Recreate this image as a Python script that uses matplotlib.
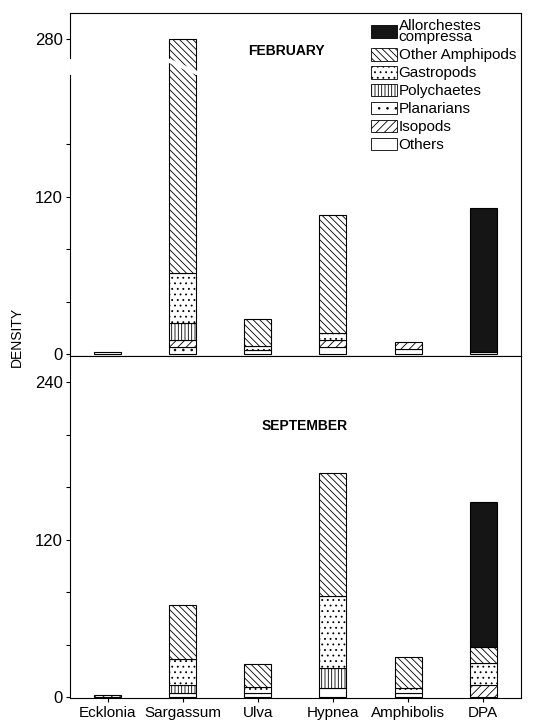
import numpy as np
import matplotlib
matplotlib.use('Agg')
import matplotlib.pyplot as plt
from matplotlib.patches import Patch

plt.rcParams['font.family'] = ['Liberation Sans', 'DejaVu Sans']
plt.rcParams['hatch.linewidth'] = 0.6

########
# DATA #
########

algae = ['Ecklonia', 'Sargassum', 'Ulva', 'Hypnea', 'Amphibolis', 'DPA']

# Stacking order, bottom to top
groups = ['Others', 'Planarians', 'Isopods', 'Polychaetes', 'Gastropods',
          'Other Amphipods', 'Allorchestes\ncompressa']

# Legend order, top to bottom (indices into groups)
legend_order = [6, 5, 4, 3, 1, 2, 0]

# February densities per group (one list per group, one value per alga)
feb_others = [0, 0, 3, 5, 4, 1.5]
feb_planarians = [0, 5, 0, 0, 0, 0]
feb_isopods = [0, 6, 0, 5.5, 5, 0]
feb_polychaetes = [0, 13, 0, 0, 0, 0]
feb_gastropods = [1.5, 38, 3, 5.5, 0, 0]
feb_amphipods = [0, 218, 21, 90, 0, 0]
feb_allorchestes = [0, 0, 0, 0, 0, 109.5]

# September densities per group
sep_others = [0, 3.5, 3, 7, 3, 0]
sep_planarians = [0, 0, 0, 0, 0, 0]
sep_isopods = [2, 0, 0, 0, 0, 9.5]
sep_polychaetes = [0, 6, 0, 15, 0, 0]
sep_gastropods = [0, 20, 5, 55.5, 4, 17]
sep_amphipods = [0, 41, 17, 93, 24, 12]
sep_allorchestes = [0, 0, 0, 0, 0, 110]

feb = [feb_others, feb_planarians, feb_isopods, feb_polychaetes,
       feb_gastropods, feb_amphipods, feb_allorchestes]
sep = [sep_others, sep_planarians, sep_isopods, sep_polychaetes,
       sep_gastropods, sep_amphipods, sep_allorchestes]

# Fill style per group
hatches = ['', '..', '////', '|||||', '...', '\\\\\\\\\\', '']
colors = ['white', 'white', 'white', 'white', 'white', 'white', '#151515']

# Broken axis in the top panel: values above 220 are squeezed 3x
BREAK = 220.0


def squeeze(y):
    y = np.asarray(y, dtype=float)
    return np.where(y <= BREAK, y, BREAK + (y - BREAK) / 3.0)


def unsqueeze(y):
    y = np.asarray(y, dtype=float)
    return np.where(y <= BREAK, y, BREAK + (y - BREAK) * 3.0)


############
# PLOTTING #
############

fig = plt.figure(figsize=(5.47, 7.2), dpi=100)
ax1 = fig.add_axes([0.128, 0.5056, 0.824, 0.4764])
ax2 = fig.add_axes([0.128, 0.0306, 0.824, 0.475])

x = np.arange(len(algae))
width = 0.36


def draw_stack(ax, data):
    bottom = np.zeros(len(algae))
    for vals, h, c in zip(data, hatches, colors):
        vals = np.array(vals, dtype=float)
        mask = vals > 0
        ax.bar(x[mask], vals[mask], width, bottom=bottom[mask], color=c,
               hatch=h, edgecolor='black', linewidth=0.8)
        bottom += vals
    return bottom


ax1.set_yscale('function', functions=(squeeze, unsqueeze))
totals_feb = draw_stack(ax1, feb)
totals_sep = draw_stack(ax2, sep)

ax1.set_xlim(-0.5, 5.5)
ax2.set_xlim(-0.5, 5.5)
ax1.set_ylim(-1.5, 340)
ax2.set_ylim(-0.5, 260)

# y ticks: labels only on some
ax1.set_yticks([0, 40, 80, 120, 160, 280])
ax1.set_yticklabels(['0', '', '', '120', '', '280'])
ax2.set_yticks([0, 40, 80, 120, 160, 200, 240])
ax2.set_yticklabels(['0', '', '', '120', '', '', '240'])

for ax in (ax1, ax2):
    ax.tick_params(axis='y', direction='out', length=3, width=0.8,
                   labelsize=12, pad=2)
    ax.tick_params(axis='x', direction='out', length=3, width=0.8)
    for s in ax.spines.values():
        s.set_linewidth(0.8)

ax1.set_xticks(x)
ax1.set_xticklabels([])
ax2.set_xticks(x)
ax2.set_xticklabels(algae, fontsize=11)
ax2.tick_params(axis='x', pad=3)

# Break marks: white gap across the Sargassum bar and on the spine
i = algae.index('Sargassum')
bx = np.array([x[i] - width / 2 - 0.02, x[i] + width / 2 + 0.02])
ax1.plot(bx, [BREAK + 12, BREAK - 6], color='white', lw=3, zorder=5)
ax1.plot([-0.5, -0.5], [BREAK - 6, BREAK + 12], color='white', lw=2,
         zorder=6, clip_on=False)

ax1.text(0.48, 0.89, 'FEBRUARY', transform=ax1.transAxes, fontsize=10,
         fontweight='bold', ha='center', va='center')
ax2.text(0.52, 0.795, 'SEPTEMBER', transform=ax2.transAxes, fontsize=10,
         fontweight='bold', ha='center', va='center')

fig.text(0.03, 1 - 337 / 720, 'DENSITY', rotation=90, fontsize=10,
         ha='center', va='center')

# Legend, top to bottom
patches = [Patch(facecolor=c, edgecolor='black', hatch=h, linewidth=0.6)
           for h, c in zip(hatches, colors)]
leg = ax1.legend([patches[k] for k in legend_order],
                 [groups[k] for k in legend_order], loc='upper right',
                 bbox_to_anchor=(1.01, 1.01), frameon=False, fontsize=11,
                 handlelength=1.7, handleheight=0.9, handletextpad=0.1,
                 labelspacing=0.22, borderaxespad=0.2)
leg.get_texts()[0].set_linespacing(0.8)

plt.savefig('out.png', dpi=100)
